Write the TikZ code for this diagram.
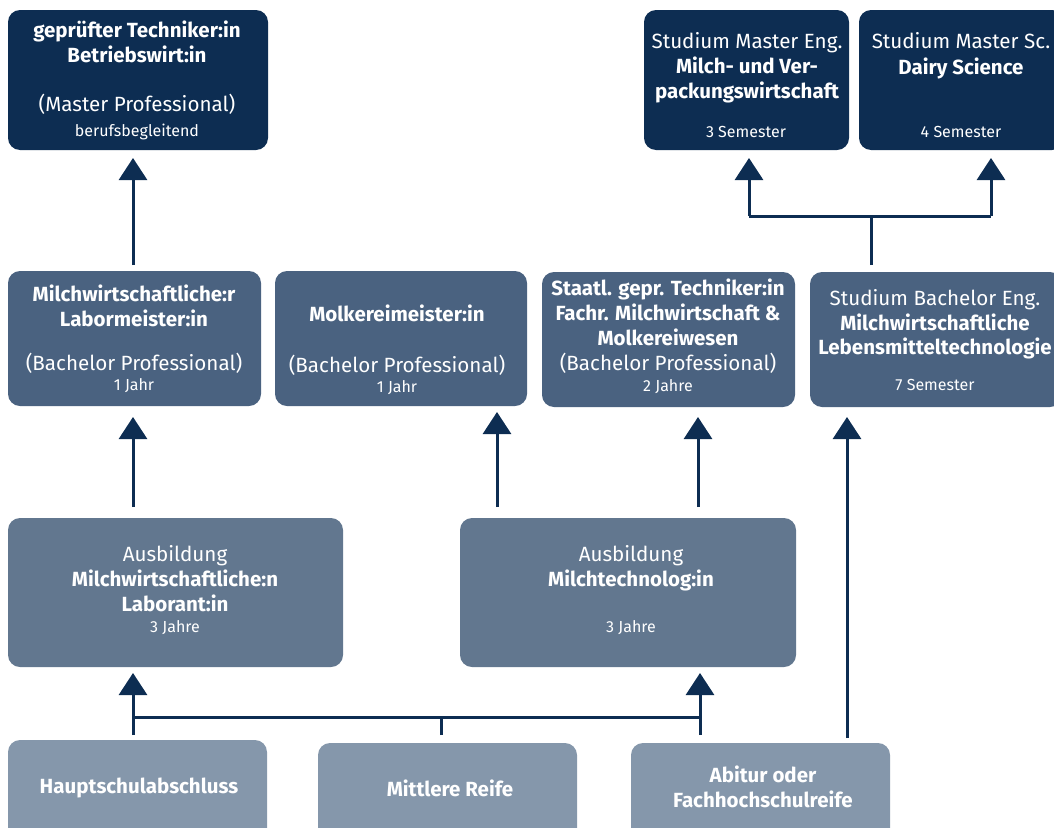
\documentclass[tikz,border=0pt]{standalone}
\usepackage{fontspec}
\setmainfont{Fira Sans}
\usetikzlibrary{arrows.meta}
\definecolor{cA}{HTML}{0D2D52}
\definecolor{cB}{HTML}{4A6280}
\definecolor{cC}{HTML}{62778F}
\definecolor{cD}{HTML}{8597AB}
\begin{document}
\begin{tikzpicture}[x=1pt,y=-1pt,
  box/.style={rounded corners=12pt, draw=none, anchor=north west, inner sep=0pt, outer sep=0pt},
  bt/.style={text=white, inner sep=0pt, anchor=base, font=\bfseries\fontsize{20.5}{22}\selectfont},
  lt/.style={text=white, inner sep=0pt, anchor=base, font=\fontsize{20.6}{22}\selectfont},
  st/.style={text=white, inner sep=0pt, anchor=base, font=\fontsize{16}{18}\selectfont},
  ln/.style={line width=3pt, draw=cA},
  arr/.style={ln, -{Triangle[width=28pt,length=22pt]}}
]
\useasboundingbox (0,0) rectangle (1054,827);
% row 1
\node[box, fill=cA, minimum width=260pt, minimum height=140pt] (tl) at (8,10) {};
\node[box, fill=cA, minimum width=205pt, minimum height=140pt] (meng) at (644,10) {};
\node[box, fill=cA, minimum width=205pt, minimum height=140pt] (msc) at (859,10) {};
% row 2
\node[box, fill=cB, minimum width=253pt, minimum height=135pt] (lm) at (8,271) {};
\node[box, fill=cB, minimum width=252pt, minimum height=135pt] (mm) at (275,271) {};
\node[box, fill=cB, minimum width=253pt, minimum height=135pt] (st) at (542,272) {};
\node[box, fill=cB, minimum width=252pt, minimum height=135pt] (ba) at (810,272) {};
% row 3
\node[box, fill=cC, minimum width=335pt, minimum height=149pt] (lab) at (8,518) {};
\node[box, fill=cC, minimum width=336pt, minimum height=149pt] (mt) at (460,518) {};
% row 4
\node[box, fill=cD, minimum width=259pt, minimum height=110pt] (hs) at (8,740) {};
\node[box, fill=cD, minimum width=259pt, minimum height=110pt] (mr) at (318,743) {};
\node[box, fill=cD, minimum width=259pt, minimum height=110pt] (ab) at (631,743) {};

% texts row 1
\node[bt] at (137,37) {geprüfter Techniker:in};
\node[bt] at (137,62) {Betriebswirt:in};
\node[lt] at (137,111) {(Master Professional)};
\node[st] at (137,136) {berufsbegleitend};
\node[lt] at (747,48) {Studium Master Eng.};
\node[bt] at (747,73) {Milch- und Ver-};
\node[bt] at (747,98) {packungswirtschaft};
\node[st] at (746,137) {3 Semester};
\node[lt] at (961,48) {Studium Master Sc.};
\node[bt] at (961,74) {Dairy Science};
\node[st] at (961,137) {4 Semester};
% texts row 2
\node[bt] at (134,301) {Milchwirtschaftliche:r};
\node[bt] at (134,326) {Labormeister:in};
\node[lt] at (134,370) {(Bachelor Professional)};
\node[st] at (134,390) {1 Jahr};
\node[bt] at (397,321) {Molkereimeister:in};
\node[lt] at (397,372) {(Bachelor Professional)};
\node[st] at (397,392) {1 Jahr};
\node[bt] at (668,295) {Staatl. gepr. Techniker:in};
\node[bt] at (668,320) {Fachr. Milchwirtschaft \&};
\node[bt] at (668,345) {Molkereiwesen};
\node[lt] at (668,370) {(Bachelor Professional)};
\node[st] at (668,391) {2 Jahre};
\node[lt] at (935,305) {Studium Bachelor Eng.};
\node[bt] at (935,330) {Milchwirtschaftliche};
\node[bt] at (935,354) {Lebensmitteltechnologie};
\node[st] at (935,390) {7 Semester};
% texts row 3
\node[lt] at (175,561) {Ausbildung};
\node[bt] at (175,586) {Milchwirtschaftliche:n};
\node[bt] at (175,611) {Laborant:in};
\node[st] at (175,632) {3 Jahre};
\node[lt] at (631,561) {Ausbildung};
\node[bt] at (631,586) {Milchtechnolog:in};
\node[st] at (631,632) {3 Jahre};
% texts row 4
\node[bt] at (139,793) {Hauptschulabschluss};
\node[bt] at (450,796) {Mittlere Reife};
\node[bt] at (763,782) {Abitur oder};
\node[bt] at (763,807) {Fachhochschulreife};

% connector positions
\coordinate (xa) at (133,0);
\coordinate (xb) at (497,0);
\coordinate (xc) at (698,0);
\coordinate (xd) at (847,0);
\coordinate (xe) at (700,0);
\coordinate (xm) at (441,0);
\coordinate (xf) at (871,0);
\coordinate (xg) at (749,0);
\coordinate (xh) at (991,0);
\coordinate (yt) at (0,216);
\coordinate (yb) at (0,717);

% arrows
\draw[arr, shorten <=6pt, shorten >=8pt] (lm.north -| xa) -- (tl.south -| xa);
\draw[arr, shorten <=11pt, shorten >=11pt] (lab.north -| xa) -- (lm.south -| xa);
\draw[arr, shorten <=11pt, shorten >=6pt] (mt.north -| xb) -- (mm.south -| xb);
\draw[arr, shorten <=11pt, shorten >=10pt] (mt.north -| xc) -- (st.south -| xc);
\draw[arr, shorten <=5pt, shorten >=10pt] (ab.north -| xd) -- (ba.south -| xd);
% top right branch
\coordinate (jt) at (xf |- yt);
\draw[ln, shorten <=7pt] (ba.north -| xf) -- (jt);
\draw[ln] (xg |- yt) -- (xh |- yt);
\draw[arr, shorten >=8pt] (xg |- yt) -- (meng.south -| xg);
\draw[arr, shorten >=8pt] (xh |- yt) -- (msc.south -| xh);
% bottom branch
\draw[ln] (xa |- yb) -- (xe |- yb);
\draw[arr, shorten <=5pt, shorten >=6pt] (hs.north -| xa) -- (lab.south -| xa);
\draw[arr, shorten <=8pt, shorten >=6pt] (ab.north -| xe) -- (mt.south -| xe);
\draw[ln, shorten <=8pt] (mr.north -| xm) -- (xm |- yb);
\end{tikzpicture}
\end{document}
